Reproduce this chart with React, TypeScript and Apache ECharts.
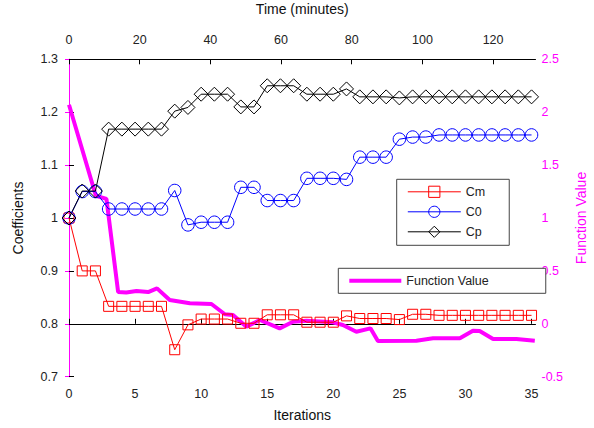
import React, { useEffect, useRef } from "react";
import * as echarts from "echarts";

const iterations = [0, 1, 2, 3, 4, 5, 6, 7, 8, 9, 10, 11, 12, 13, 14, 15, 16, 17, 18, 19, 20, 21, 22, 23, 24, 25, 26, 27, 28, 29, 30, 31, 32, 33, 34, 35];

const cm = [1.0, 0.9, 0.9, 0.833, 0.833, 0.833, 0.833, 0.833, 0.751, 0.798, 0.809, 0.809, 0.809, 0.801, 0.801, 0.817, 0.817, 0.817, 0.803, 0.803, 0.803, 0.815, 0.81, 0.81, 0.81, 0.808, 0.818, 0.818, 0.816, 0.816, 0.816, 0.816, 0.816, 0.816, 0.816, 0.816];
const c0 = [1.0, 1.05, 1.05, 1.017, 1.017, 1.017, 1.017, 1.017, 1.052, 0.987, 0.992, 0.992, 0.992, 1.058, 1.058, 1.033, 1.033, 1.033, 1.075, 1.075, 1.075, 1.073, 1.115, 1.115, 1.115, 1.149, 1.153, 1.153, 1.157, 1.157, 1.157, 1.157, 1.157, 1.157, 1.157, 1.157];
const cp = [1.0, 1.051, 1.051, 1.168, 1.168, 1.168, 1.168, 1.168, 1.202, 1.209, 1.234, 1.234, 1.234, 1.21, 1.21, 1.25, 1.25, 1.25, 1.234, 1.234, 1.234, 1.244, 1.229, 1.229, 1.229, 1.227, 1.229, 1.229, 1.229, 1.229, 1.229, 1.229, 1.229, 1.229, 1.229, 1.229];

const timeMinutes = [0, 7.6, 10.6, 13.9, 16.2, 19.1, 22.4, 24.9, 28.5, 34.2, 40.3, 44.1, 46.4, 50.2, 54.0, 59.6, 63.4, 67.2, 74.7, 77.5, 81.3, 85.3, 87.4, 98.3, 103.0, 110.6, 114.3, 116.2, 120.0, 126.6, 131.8];
const functionValue = [2.07, 1.21, 1.18, 0.3, 0.295, 0.31, 0.3, 0.335, 0.225, 0.195, 0.187, 0.09, 0.083, -0.027, 0.036, -0.043, 0.02, 0.029, 0.014, -0.011, -0.075, -0.043, -0.163, -0.16, -0.137, -0.137, -0.065, -0.068, -0.144, -0.144, -0.16];

const FONT = "'Liberation Sans', Arial, sans-serif";
const MAGENTA = "#ff00ff";

export default function App() {
  const ref = useRef<HTMLDivElement>(null);
  useEffect(() => {
    if (!ref.current) return;
    const chart = echarts.init(ref.current, null, { renderer: "svg" });
    const pairs = (ys: number[]) => iterations.map((x, i) => [x, ys[i]]);
    const labelStyle = { fontFamily: FONT, fontSize: 12.5, color: "#222" };
    const nameStyle = { fontFamily: FONT, fontSize: 14, color: "#111" };
    const coefSeries = (name: string, ys: number[], color: string, symbol: string, size: number) => ({
      name,
      type: "line",
      xAxisIndex: 0,
      yAxisIndex: 0,
      data: pairs(ys),
      symbol,
      symbolSize: size,
      showAllSymbol: true,
      lineStyle: { color, width: 1 },
      itemStyle: { color: "rgba(0,0,0,0)", borderColor: color, borderWidth: 1 },
      z: 3,
    });
    chart.setOption({
      animation: false,
      backgroundColor: "#fff",
      grid: { left: 69, right: 58.5, top: 59.3, bottom: 51.3, containLabel: false, outerBoundsMode: "none" },
      legend: [
        {
          data: ["Cm", "C0", "Cp"],
          orient: "vertical",
          left: 396.7,
          top: 179.3,
          itemWidth: 53,
          itemHeight: 14,
          itemGap: 7,
          padding: [6, 24, 7, 10.6],
          borderColor: "#444",
          borderWidth: 1,
          backgroundColor: "#fff",
          textStyle: { fontFamily: FONT, fontSize: 12.5, color: "#222" },
          itemStyle: { borderWidth: 1 },
          lineStyle: { width: 1 },
        },
        {
          data: [{ name: "Function Value", icon: "rect" }],
          left: 338.3,
          top: 268.3,
          itemWidth: 52,
          itemHeight: 4,
          padding: [6, 57, 6, 11],
          borderColor: "#444",
          borderWidth: 1,
          backgroundColor: "#fff",
          textStyle: { fontFamily: FONT, fontSize: 12.5, color: "#222" },
        },
      ],
      xAxis: [
        {
          type: "value",
          position: "bottom",
          min: 0,
          max: 35.3,
          interval: 5,
          splitLine: { show: false },
          axisLine: { lineStyle: { color: "#000", width: 1 } },
          axisTick: { inside: true, length: 5, lineStyle: { color: "#000" } },
          axisLabel: { ...labelStyle, margin: 11, showMaxLabel: false },
          name: "Iterations",
          nameLocation: "middle",
          nameGap: 31,
          nameTextStyle: nameStyle,
        },
        {
          type: "value",
          position: "top",
          min: 0,
          max: 132,
          interval: 20,
          splitLine: { show: false },
          axisLine: { lineStyle: { color: "#000", width: 1 } },
          axisTick: { inside: true, length: 5, lineStyle: { color: "#000" } },
          axisLabel: { ...labelStyle, margin: 13, showMaxLabel: false },
          name: "Time (minutes)",
          nameLocation: "middle",
          nameGap: 43,
          nameTextStyle: nameStyle,
        },
      ],
      yAxis: [
        {
          type: "value",
          position: "left",
          min: 0.7,
          max: 1.3,
          interval: 0.1,
          splitLine: { show: false },
          axisLine: { show: true, lineStyle: { color: "#000", width: 1 } },
          axisTick: { show: true, inside: true, length: 5, lineStyle: { color: "#000" } },
          axisLabel: { ...labelStyle, margin: 11, formatter: (v: number) => String(Math.round(v * 10) / 10) },
          name: "Coefficients",
          nameLocation: "middle",
          nameRotate: 90,
          nameGap: 44,
          nameTextStyle: nameStyle,
        },
        {
          type: "value",
          position: "right",
          min: -0.5,
          max: 2.5,
          interval: 0.5,
          splitLine: { show: false },
          axisLine: { show: true, lineStyle: { color: MAGENTA, width: 1 } },
          axisTick: { show: true, inside: true, length: 4, lineStyle: { color: MAGENTA } },
          axisLabel: { ...labelStyle, color: MAGENTA, margin: 6 },
          name: "Function Value",
          nameLocation: "middle",
          nameRotate: 90,
          nameGap: 33,
          nameTextStyle: { ...nameStyle, color: MAGENTA },
        },
      ],
      series: [
        {
          name: "Function Value",
          type: "line",
          xAxisIndex: 1,
          yAxisIndex: 1,
          data: timeMinutes.map((t, i) => [t, functionValue[i]]),
          symbol: "none",
          lineStyle: { color: MAGENTA, width: 4 },
          itemStyle: { color: MAGENTA },
          z: 2,
        },
        coefSeries("Cm", cm, "#ff0000", "rect", 10),
        coefSeries("C0", c0, "#0000ff", "circle", 12.5),
        coefSeries("Cp", cp, "#000000", "diamond", 14),
      ],
    });
    return () => chart.dispose();
  }, []);
  return <div ref={ref} style={{ width: 594, height: 428, position: "absolute", left: 0, top: 0 }} />;
}
